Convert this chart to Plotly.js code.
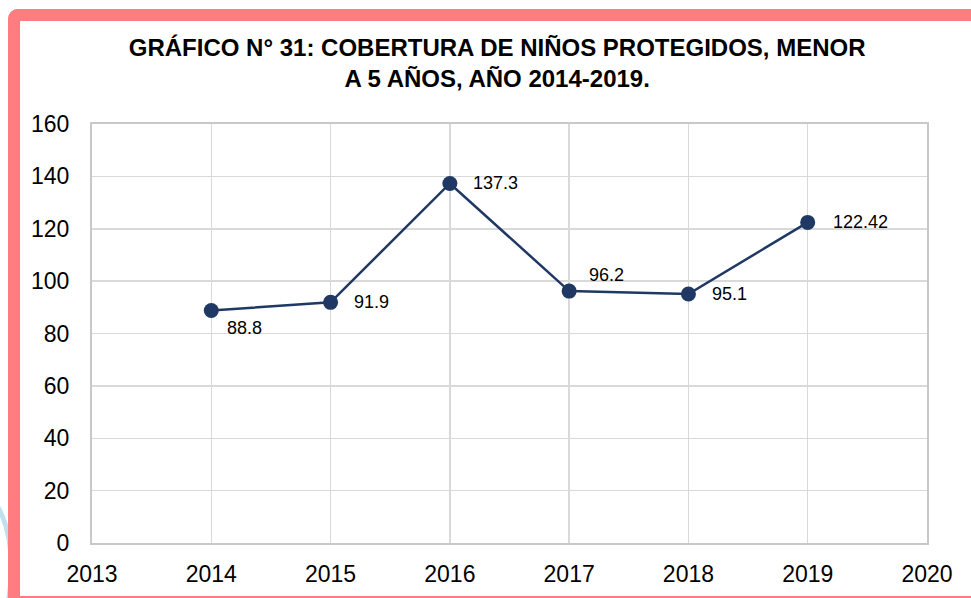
<!DOCTYPE html>
<html>
<head>
<meta charset="utf-8">
<script src="https://cdn.plot.ly/plotly-3.0.1.min.js"></script>
<style>
  html, body { margin: 0; padding: 0; background: #ffffff; overflow: hidden; }
  #wrap { position: relative; width: 971px; height: 598px; overflow: hidden; }
  #mark { position: absolute; left: -62px; top: 488px; width: 66px; height: 150px;
          border: 5px solid #bfe0ee; border-radius: 50%; }
  #frame { position: absolute; left: 8px; top: 9px; width: 990px; height: 575px;
           border-left: 12px solid #ff7c80; border-top: 12px solid #ff7c80;
           border-bottom: 2px solid #ff7c80; border-top-left-radius: 10px; background: #ffffff; }
  #chart { position: absolute; left: 0; top: 0; width: 971px; height: 598px; }
</style>
</head>
<body>
<div id="wrap">
  <div id="mark"></div>
  <div id="frame"></div>
  <div id="chart"></div>
</div>
<script>
const years = [2014, 2015, 2016, 2017, 2018, 2019];
const values = [88.8, 91.9, 137.3, 96.2, 95.1, 122.42];
const valueLabels = ["88.8", "91.9", "137.3", "96.2", "95.1", "122.42"];
const xTicks = [2013, 2014, 2015, 2016, 2017, 2018, 2019, 2020];
const yTicks = [0, 20, 40, 60, 80, 100, 120, 140, 160];
const titleText = "GRÁFICO N° 31: COBERTURA DE NIÑOS PROTEGIDOS, MENOR<br>A 5 AÑOS, AÑO 2014-2019.";

const labelShift = [[33, -18], [41, 0], [46, 0], [37, 16], [41, 0], [53, 0]];

const FONT = '"Liberation Sans", Arial, sans-serif';
const navy = '#1f3864';

const annotations = years.map((yr, i) => ({
  x: yr, y: values[i], xref: 'x', yref: 'y',
  text: valueLabels[i], showarrow: false,
  xshift: labelShift[i][0], yshift: labelShift[i][1],
  font: { family: FONT, size: 18, color: '#000000' }
}));

const trace = {
  x: years, y: values, type: 'scatter', mode: 'lines+markers',
  line: { color: navy, width: 2.5 },
  marker: { color: navy, size: 15 },
  hoverinfo: 'skip'
};

const layout = {
  width: 971, height: 598,
  margin: { l: 92, r: 44, t: 124, b: 55 },
  paper_bgcolor: 'rgba(0,0,0,0)',
  plot_bgcolor: '#ffffff',
  showlegend: false,
  font: { family: FONT, color: '#000000' },
  title: {
    text: titleText,
    font: { family: FONT, size: 24, color: '#000000', weight: 'bold' },
    xref: 'container', x: 0.512, xanchor: 'center',
    yref: 'container', y: 0.906, yanchor: 'top'
  },
  xaxis: {
    range: [2013, 2020], tickvals: xTicks, ticktext: xTicks.map(String),
    showgrid: true, gridcolor: '#d9d9d9', gridwidth: 1.5,
    showline: true, linecolor: '#c8c8c8', linewidth: 2, mirror: true,
    zeroline: false, ticks: '', ticklabelstandoff: 9,
    tickfont: { family: FONT, size: 23, color: '#000000' }
  },
  yaxis: {
    range: [0, 160], tickvals: yTicks,
    showgrid: true, gridcolor: '#d9d9d9', gridwidth: 1.5,
    showline: true, linecolor: '#c8c8c8', linewidth: 2, mirror: true,
    zeroline: false, ticks: '', ticklabelstandoff: 16,
    tickfont: { family: FONT, size: 23, color: '#000000' }
  },
  annotations: annotations
};

Plotly.newPlot('chart', [trace], layout, { displayModeBar: false, staticPlot: true });
</script>
</body>
</html>
